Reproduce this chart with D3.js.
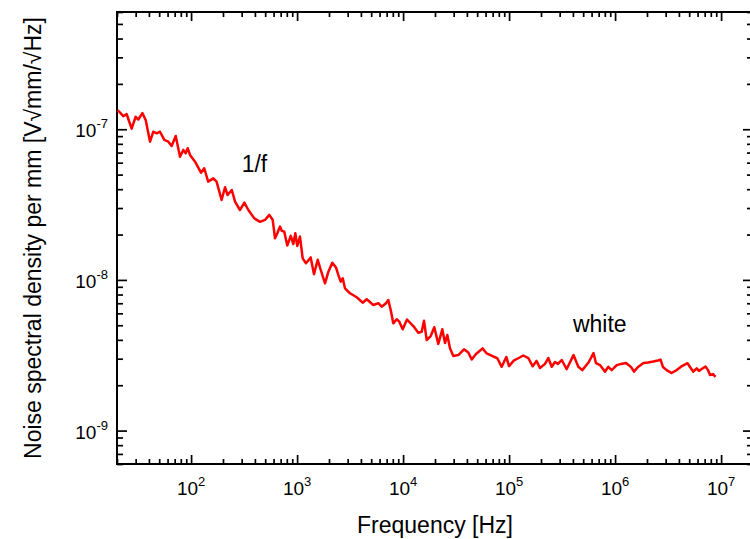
<!DOCTYPE html>
<html><head><meta charset="utf-8">
<script src="https://cdn.jsdelivr.net/npm/d3@7"></script>
<style>
body{margin:0;background:#fff}
svg{display:block}
text{font-family:"Liberation Sans",Arial,Helvetica,sans-serif;fill:#000}
</style>
</head><body>
<svg id="chart" width="750" height="539"></svg>
<script>
// ---- data ----
const freq = [20.2,21.6,22.9,24.7,26.0,27.5,30.0,31.8,34.7,37.3,41.0,44.0,47.4,50.9,55.9,61.0,65.6,71.6,78.6,84.4,88.9,92.9,97.7,109,124,133,145,162,174,194,209,221,242,260,289,318,347,395,447,498,547,589,619,651,690,716,757,808,871,921,962,1004,1065,1129,1213,1344,1444,1565,1681,1834,1970,2148,2328,2447,2578,2693,2831,3156,3650,4158,4536,5235,5837,6284,6899,7252,7641,8084,8705,9211,9915,10884,12483,13915,14981,15748,16700,18210,19700,21480,23440,24850,26120,27700,29760,33180,37550,41230,44390,48730,56360,61480,68990,77410,85160,94100,99800,111300,122100,136100,151800,167000,181300,195700,218200,234400,252300,271200,289300,313500,349500,405200,449700,490500,561300,625700,660600,720500,803100,862800,928900,1.036e6,1.137e6,1.267e6,1.413e6,1.508e6,1.645e6,1.854e6,2.044e6,2.293e6,2.540e6,2.682e6,2.831e6,3.068e6,3.405e6,3.813e6,4.278e6,4.822e6,5.091e6,5.469e6,5.888e6,6.188e6,6.561e6,7.127e6,7.525e6,7.859e6,8.387e6,8.855e6];
const density = [1.34e-7,1.28e-7,1.22e-7,1.26e-7,1.13e-7,1.01e-7,1.21e-7,1.16e-7,1.28e-7,1.15e-7,8.27e-8,9.63e-8,9.40e-8,9.63e-8,8.49e-8,8.27e-8,7.74e-8,9.02e-8,6.57e-8,7.29e-8,6.93e-8,7.48e-8,6.75e-8,6.09e-8,5.15e-8,5.51e-8,4.49e-8,4.72e-8,4.49e-8,3.39e-8,4.12e-8,3.66e-8,3.95e-8,3.31e-8,2.91e-8,3.26e-8,2.91e-8,2.56e-8,2.43e-8,2.50e-8,2.70e-8,2.50e-8,1.89e-8,2.04e-8,2.26e-8,2.12e-8,2.09e-8,1.69e-8,1.96e-8,1.73e-8,2.04e-8,1.68e-8,1.94e-8,1.39e-8,1.29e-8,1.41e-8,1.09e-8,1.36e-8,1.15e-8,9.49e-9,1.13e-8,1.30e-8,1.21e-8,1.08e-8,9.73e-9,1.025e-8,8.80e-9,8.15e-9,7.67e-9,7.06e-9,7.44e-9,6.82e-9,7.00e-9,6.64e-9,7.00e-9,7.36e-9,6.32e-9,5.15e-9,5.48e-9,5.28e-9,4.70e-9,5.46e-9,4.94e-9,4.46e-9,4.53e-9,5.36e-9,3.99e-9,4.24e-9,4.85e-9,3.76e-9,4.70e-9,3.81e-9,4.31e-9,3.52e-9,3.13e-9,3.17e-9,3.46e-9,3.30e-9,2.96e-9,3.22e-9,3.51e-9,3.25e-9,3.13e-9,3.02e-9,2.65e-9,3.08e-9,2.68e-9,2.92e-9,3.02e-9,3.15e-9,3.03e-9,2.67e-9,2.90e-9,2.60e-9,2.77e-9,3.03e-9,2.65e-9,2.85e-9,2.77e-9,2.94e-9,2.56e-9,3.17e-9,2.65e-9,2.52e-9,2.83e-9,3.27e-9,2.80e-9,2.72e-9,2.46e-9,2.65e-9,2.52e-9,2.72e-9,2.77e-9,2.81e-9,2.64e-9,2.46e-9,2.64e-9,2.81e-9,2.83e-9,2.87e-9,2.92e-9,2.96e-9,2.64e-9,2.52e-9,2.41e-9,2.52e-9,2.68e-9,2.80e-9,2.64e-9,2.46e-9,2.59e-9,2.49e-9,2.56e-9,2.66e-9,2.52e-9,2.34e-9,2.37e-9,2.27e-9];
const xTickExponents = [2,3,4,5,6,7];
const yTickExponents = [-9,-8,-7];
const xTitle = "Frequency [Hz]";
const yTitle = "Noise spectral density per mm [V\u221Amm/\u221AHz]";
const annotationText = ["1/f","white"];
const annotationFreq = [300,4.0e5];
const annotationDensity = [5.2e-8,4.5e-9];

// ---- layout ----
const svg = d3.select("#chart");
const L = 117, R = 753, T = 12, B = 464;
const x = d3.scaleLog().domain([20, 2e7]).range([L, R]);
const y = d3.scaleLog().domain([6e-10, 6e-7]).range([B, T]);

function minors(domain){
  const out=[];
  const lo=Math.floor(Math.log10(domain[0])), hi=Math.ceil(Math.log10(domain[1]));
  for(let d=lo; d<=hi; d++) for(let m=2;m<=9;m++){const v=m*Math.pow(10,d); if(v>=domain[0]*0.999&&v<=domain[1]*1.001) out.push(v);}
  return out;
}
const xMaj = xTickExponents.map(e=>Math.pow(10,e));
const yMaj = yTickExponents.map(e=>Math.pow(10,e));
const xMin = minors(x.domain());
const yMin = minors(y.domain());

function drawAxis(gen, tr, vals, size){
  const g = svg.append("g").attr("transform", tr)
    .call(gen.tickValues(vals).tickSize(size).tickSizeOuter(0).tickFormat(""));
  g.select(".domain").remove();
  g.selectAll(".tick line").attr("stroke","#000").attr("stroke-width",1.7);
}
drawAxis(d3.axisBottom(x), `translate(0,${B})`, xMaj, -9);
drawAxis(d3.axisBottom(x), `translate(0,${B})`, xMin, -5);
drawAxis(d3.axisTop(x), `translate(0,${T})`, xMaj, -9);
drawAxis(d3.axisTop(x), `translate(0,${T})`, xMin, -5);
drawAxis(d3.axisLeft(y), `translate(${L},0)`, yMaj, -10);
drawAxis(d3.axisLeft(y), `translate(${L},0)`, yMin, -6);
drawAxis(d3.axisRight(y), `translate(${R},0)`, yMaj, -10);
drawAxis(d3.axisRight(y), `translate(${R},0)`, yMin, -6);

svg.append("rect").attr("x",L).attr("y",T).attr("width",R-L).attr("height",B-T)
  .attr("fill","none").attr("stroke","#000").attr("stroke-width",2);

xTickExponents.forEach(e=>{
  const t = svg.append("text").attr("x", x(Math.pow(10,e))).attr("y", 495)
    .attr("text-anchor","middle").attr("font-size",19);
  t.append("tspan").text("10");
  t.append("tspan").attr("font-size",13).attr("dy",-9).text(String(e));
});
yTickExponents.forEach(e=>{
  const t = svg.append("text").attr("x", 108).attr("y", y(Math.pow(10,e))+8)
    .attr("text-anchor","end").attr("font-size",19);
  t.append("tspan").text("10");
  t.append("tspan").attr("font-size",13).attr("dy",-9).text(String(e));
});

svg.append("text").attr("x",(L+R)/2).attr("y",533).attr("text-anchor","middle")
  .attr("font-size",23).text(xTitle);
svg.append("text").attr("transform",`translate(41,${(T+B)/2}) rotate(-90)`)
  .attr("text-anchor","middle").attr("font-size",23).text(yTitle);

const pts = freq.map((f,i)=>[f,density[i]]);
svg.append("path").datum(pts)
  .attr("fill","none").attr("stroke","#ff0000").attr("stroke-width",2.5)
  .attr("stroke-linejoin","round")
  .attr("d", d3.line().x(d=>x(d[0])).y(d=>y(d[1])));

annotationText.forEach((s,i)=>{
  svg.append("text").attr("x", x(annotationFreq[i])).attr("y", y(annotationDensity[i]))
    .attr("font-size",23).text(s);
});
</script>
</body></html>
